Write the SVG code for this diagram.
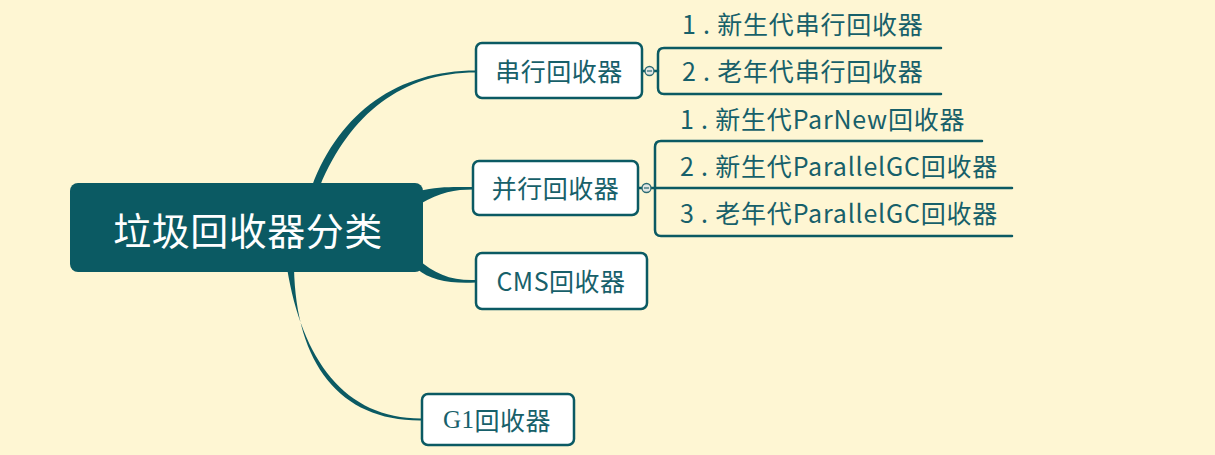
<svg xmlns="http://www.w3.org/2000/svg" width="1215" height="455" viewBox="0 0 1215 455">
<style>
.bg{fill:#FEF6D3}
.node rect{fill:#FFFFFF;stroke:#0B5A63;stroke-width:2.5}
.t{font-family:"Noto Sans CJK SC","Noto Sans",sans-serif;fill:#17606A;dominant-baseline:central}
.nt{font-size:25px;text-anchor:middle;letter-spacing:0.5px}
.ct{font-size:25px;letter-spacing:0.8px}
.br{fill:#0B5A63}
.ln{fill:none;stroke:#0B5A63;stroke-width:2.5;stroke-linecap:round}
.col circle{fill:#E4E6E4;stroke:#2B6A72;stroke-width:1.3}
.col line{stroke:#2B6A72;stroke-width:1.2}
</style>
<rect class="bg" x="0" y="0" width="1215" height="455"/>
<g id="connectors">
  <path class="br" d="M312 186 C340 112 398 70.5 476 70.5 L476 72.5 C402 72.5 350 114 320 186 Z"/>
  <path class="br" d="M418 191 C440 186 455 187 473 187 L473 189.5 C455 189.5 440 192 420 204 Z"/>
  <path class="br" d="M418 259 C434 274 452 281 476 280 L476 282.5 C450 284 430 280 417 269 Z"/>
  <path class="br" d="M287 268 C302 360 345 418.5 421 418.5 L421 420.5 C340 421 296 364 294 268 Z"/>
  <line class="ln" x1="642" y1="71" x2="645" y2="71"/>
  <line class="ln" x1="654" y1="71" x2="658" y2="71"/>
  <path class="ln" d="M941 48 H664 Q658 48 658 54 V88 Q658 94 664 94 H941"/>
  <line class="ln" x1="638" y1="188" x2="642" y2="188"/>
  <line class="ln" x1="651" y1="188" x2="1012" y2="188"/>
  <path class="ln" d="M982 141 H661 Q655 141 655 147 V230 Q655 236 661 236 H1012"/>
  <g class="col"><circle cx="649.5" cy="71" r="4.5"/><line x1="647" y1="71" x2="652" y2="71"/></g>
  <g class="col"><circle cx="646.5" cy="188" r="4.5"/><line x1="644" y1="188" x2="649" y2="188"/></g>
</g>
<g id="root">
  <rect x="70" y="183" width="353" height="89" rx="8" fill="#0B5A63"/>
  <text class="t" x="248" y="228" font-size="38" text-anchor="middle" style="fill:#FFFFFF;letter-spacing:0.5px">垃圾回收器分类</text>
</g>
<g id="serial" class="node">
  <rect x="476" y="43" width="166" height="55" rx="6"/>
  <text class="t nt" x="559" y="70">串行回收器</text>
</g>
<g id="parallel" class="node">
  <rect x="473" y="161" width="165" height="54" rx="6"/>
  <text class="t nt" x="555.5" y="187">并行回收器</text>
</g>
<g id="cms" class="node">
  <rect x="476" y="253" width="171" height="56" rx="6"/>
  <text class="t nt" x="561" y="280">CMS回收器</text>
</g>
<g id="g1" class="node">
  <rect x="422" y="394" width="152" height="51" rx="6"/>
  <text class="t nt" x="497" y="419"><tspan style="font-family:'Liberation Serif',serif">G1</tspan>回收器</text>
</g>
<g id="serial-young">
  <text class="t ct" x="682" y="23">1 . 新生代串行回收器</text>
</g>
<g id="serial-old">
  <text class="t ct" x="682" y="70">2 . 老年代串行回收器</text>
</g>
<g id="parnew">
  <text class="t ct" x="680" y="118">1 . 新生代ParNew回收器</text>
</g>
<g id="parallelgc-young">
  <text class="t ct" x="680" y="165">2 . 新生代ParallelGC回收器</text>
</g>
<g id="parallelgc-old">
  <text class="t ct" x="680" y="212">3 . 老年代ParallelGC回收器</text>
</g>
</svg>
